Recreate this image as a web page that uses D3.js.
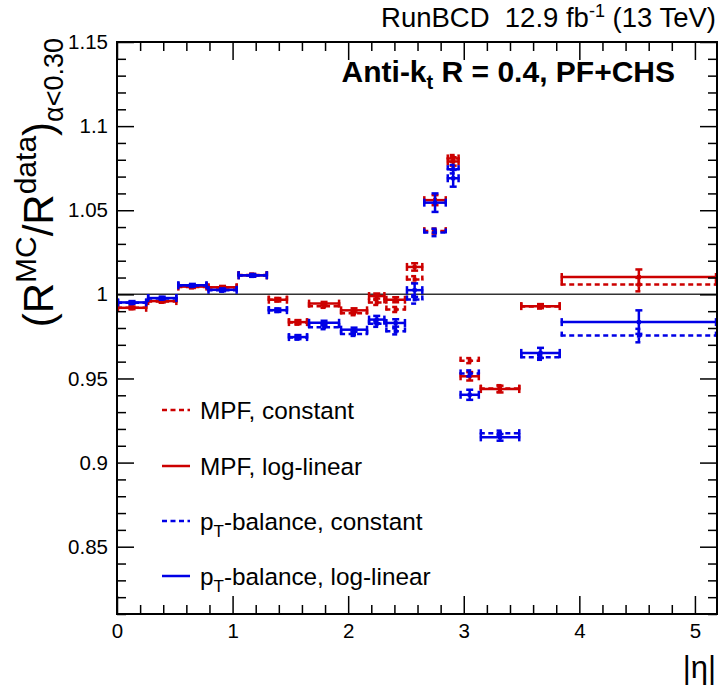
<!DOCTYPE html>
<html>
<head>
<meta charset="utf-8">
<script src="https://cdn.jsdelivr.net/npm/d3@7"></script>
<style>
  body { margin: 0; background: #fff; }
  text { font-family: "Liberation Sans", Arial, Helvetica, sans-serif; white-space: pre; }
</style>
</head>
<body>
<svg id="chart" width="718" height="688"></svg>
<script>
// |eta| bin edges
const etaEdges = [0, 0.261, 0.522, 0.783, 1.044, 1.305, 1.479, 1.653, 1.930, 2.172,
                  2.322, 2.500, 2.650, 2.853, 2.964, 3.139, 3.489, 3.839, 5.191];

// MC/data response ratio per bin, extrapolated to alpha < 0.30
const mpfConstant     = [0.9920, 0.9958, 1.0044, 1.0040, 1.0115, 0.9968, 0.9832, 0.9930, 0.9888,
                         0.9952, 0.9910, 1.0088, 1.0376, 1.0808, 0.9606, 0.9440, 0.9928, 1.0058];
const mpfConstantErr  = [0.0008, 0.0008, 0.0008, 0.0008, 0.0008, 0.0010, 0.0012, 0.0010, 0.0012,
                         0.0015, 0.0015, 0.0020, 0.0015, 0.0020, 0.0015, 0.0020, 0.0012, 0.0040];
const mpfLogLin       = [0.9920, 0.9960, 1.0046, 1.0042, 1.0113, 0.9968, 0.9835, 0.9945, 0.9905,
                         0.9990, 0.9968, 1.0163, 1.0560, 1.0790, 0.9513, 0.9437, 0.9930, 1.0103];
const mpfLogLinErr    = [0.0008, 0.0008, 0.0008, 0.0008, 0.0008, 0.0010, 0.0012, 0.0010, 0.0012,
                         0.0015, 0.0015, 0.0022, 0.0030, 0.0025, 0.0025, 0.0020, 0.0012, 0.0045];
const ptbConstant     = [0.9950, 0.9976, 1.0052, 1.0024, 1.0112, 0.9905, 0.9743, 0.9805, 0.9765,
                         0.9825, 0.9780, 0.9970, 1.0368, 1.0744, 0.9530, 0.9175, 0.9626, 0.9755];
const ptbConstantErr  = [0.0008, 0.0008, 0.0008, 0.0008, 0.0008, 0.0010, 0.0012, 0.0012, 0.0012,
                         0.0018, 0.0018, 0.0025, 0.0022, 0.0025, 0.0018, 0.0015, 0.0015, 0.0040];
const ptbLogLin       = [0.9952, 0.9978, 1.0054, 1.0027, 1.0113, 0.9906, 0.9746, 0.9831, 0.9790,
                         0.9850, 0.9830, 1.0025, 1.0545, 1.0690, 0.9403, 0.9150, 0.9652, 0.9835];
const ptbLogLinErr    = [0.0008, 0.0008, 0.0008, 0.0008, 0.0008, 0.0010, 0.0012, 0.0012, 0.0012,
                         0.0022, 0.0022, 0.0040, 0.0055, 0.0050, 0.0030, 0.0020, 0.0030, 0.0070];

// axis ticks
const xMajorTicks = [0, 1, 2, 3, 4, 5];
const yMajorTicks = [0.85, 0.90, 0.95, 1.00, 1.05, 1.10, 1.15];

const series = [
  { label: ["MPF, constant"],              values: mpfConstant, errors: mpfConstantErr, color: "#cc0000", dashed: true },
  { label: ["MPF, log-linear"],            values: mpfLogLin,   errors: mpfLogLinErr,   color: "#cc0000", dashed: false },
  { label: ["p", "T", "-balance, constant"],   values: ptbConstant, errors: ptbConstantErr, color: "#0000e6", dashed: true },
  { label: ["p", "T", "-balance, log-linear"], values: ptbLogLin,   errors: ptbLogLinErr,   color: "#0000e6", dashed: false }
];

const svg = d3.select("#chart");
const L = 117, R = 717, T = 42, B = 614;
const x = d3.scaleLinear().domain([0, 5.191]).range([L, R]);
const y = d3.scaleLinear().domain([0.81, 1.15]).range([B, T]);

const fmt = d => String(+d.toFixed(2));

// clip region for the plotted data
svg.append("defs").append("clipPath").attr("id", "plotClip")
  .append("rect").attr("x", L).attr("y", T).attr("width", R - L).attr("height", B - T);

// reference line at unity
svg.append("line")
  .attr("x1", x(0)).attr("x2", x(5.191)).attr("y1", y(1)).attr("y2", y(1))
  .attr("stroke", "#333").attr("stroke-width", 1.5);

// error-bar markers per series
const bins = d3.range(etaEdges.length - 1);
const dataLayer = svg.append("g").attr("clip-path", "url(#plotClip)");
const CAP_H = 4, CAP_V = 3.5, LW = 2.5, DASH = "5,3.5";

series.forEach(s => {
  const g = dataLayer.append("g")
    .attr("stroke", s.color).attr("stroke-width", LW).attr("fill", "none")
    .attr("stroke-dasharray", s.dashed ? DASH : null);
  const pts = bins.map(i => ({
    lo: etaEdges[i], hi: etaEdges[i + 1],
    c: (etaEdges[i] + etaEdges[i + 1]) / 2,
    v: s.values[i], e: s.errors[i]
  }));
  // horizontal bars (bin width)
  g.selectAll("line.h").data(pts).join("line").attr("class", "h")
    .attr("x1", d => x(d.lo)).attr("x2", d => x(d.hi))
    .attr("y1", d => y(d.v)).attr("y2", d => y(d.v));
  // end caps of horizontal bars
  g.selectAll("line.hl").data(pts).join("line").attr("class", "hl")
    .attr("stroke-dasharray", null)
    .attr("x1", d => x(d.lo) + 1).attr("x2", d => x(d.lo) + 1)
    .attr("y1", d => y(d.v) - CAP_H).attr("y2", d => y(d.v) + CAP_H);
  g.selectAll("line.hr").data(pts).join("line").attr("class", "hr")
    .attr("stroke-dasharray", null)
    .attr("x1", d => x(d.hi) - 1).attr("x2", d => x(d.hi) - 1)
    .attr("y1", d => y(d.v) - CAP_H).attr("y2", d => y(d.v) + CAP_H);
  // vertical error bars
  g.selectAll("line.v").data(pts).join("line").attr("class", "v")
    .attr("stroke-dasharray", null)
    .attr("x1", d => x(d.c)).attr("x2", d => x(d.c))
    .attr("y1", d => y(d.v + d.e)).attr("y2", d => y(d.v - d.e));
  g.selectAll("line.vt").data(pts).join("line").attr("class", "vt")
    .attr("stroke-dasharray", null)
    .attr("x1", d => x(d.c) - CAP_V).attr("x2", d => x(d.c) + CAP_V)
    .attr("y1", d => y(d.v + d.e)).attr("y2", d => y(d.v + d.e));
  g.selectAll("line.vb").data(pts).join("line").attr("class", "vb")
    .attr("stroke-dasharray", null)
    .attr("x1", d => x(d.c) - CAP_V).attr("x2", d => x(d.c) + CAP_V)
    .attr("y1", d => y(d.v - d.e)).attr("y2", d => y(d.v - d.e));
  // small centre marker
  dataLayer.append("g").selectAll("rect").data(pts).join("rect")
    .attr("x", d => x(d.c) - 2).attr("y", d => y(d.v) - 2)
    .attr("width", 4).attr("height", 4).attr("fill", s.color);
});

// axes: major + minor ticks on all four sides, pointing inward
const xMinor = d3.range(0.2, 5.19, 0.2).filter(v => Math.abs(v - Math.round(v)) > 1e-6);
const yMinor = d3.range(0.81, 1.1501, 0.01).filter(v => !yMajorTicks.some(t => Math.abs(t - v) < 1e-6));

const axisFont = g => g.selectAll("text")
  .attr("font-family", "Liberation Sans, Arial, sans-serif").attr("font-size", 20.5).attr("fill", "#000");

const xb = svg.append("g").attr("transform", `translate(0,${B})`)
  .call(d3.axisBottom(x).tickValues(xMajorTicks).tickFormat(d3.format("d")).tickSizeInner(-18).tickSizeOuter(0).tickPadding(9));
xb.call(axisFont);
svg.append("g").attr("transform", `translate(0,${B})`)
  .call(d3.axisBottom(x).tickValues(xMinor).tickFormat("").tickSizeInner(-9).tickSizeOuter(0));
svg.append("g").attr("transform", `translate(0,${T})`)
  .call(d3.axisTop(x).tickValues(xMajorTicks).tickFormat("").tickSizeInner(-18).tickSizeOuter(0));
svg.append("g").attr("transform", `translate(0,${T})`)
  .call(d3.axisTop(x).tickValues(xMinor).tickFormat("").tickSizeInner(-9).tickSizeOuter(0));

const yl = svg.append("g").attr("transform", `translate(${L},0)`)
  .call(d3.axisLeft(y).tickValues(yMajorTicks).tickFormat(fmt).tickSizeInner(-17).tickSizeOuter(0).tickPadding(9));
yl.call(axisFont);
svg.append("g").attr("transform", `translate(${L},0)`)
  .call(d3.axisLeft(y).tickValues(yMinor).tickFormat("").tickSizeInner(-9).tickSizeOuter(0));
svg.append("g").attr("transform", `translate(${R},0)`)
  .call(d3.axisRight(y).tickValues(yMajorTicks).tickFormat("").tickSizeInner(-17).tickSizeOuter(0));
svg.append("g").attr("transform", `translate(${R},0)`)
  .call(d3.axisRight(y).tickValues(yMinor).tickFormat("").tickSizeInner(-9).tickSizeOuter(0));

svg.selectAll(".domain").remove();
svg.selectAll(".tick line").attr("stroke", "#000").attr("stroke-width", 1.5);

// frame
svg.append("rect").attr("x", L).attr("y", T).attr("width", R - L).attr("height", B - T)
  .attr("fill", "none").attr("stroke", "#000").attr("stroke-width", 2);

// axis titles
svg.append("text").attr("x", 716).attr("y", 678).attr("text-anchor", "end")
  .attr("font-size", 31).text("|η|");

const yt = svg.append("text").attr("transform", "translate(53,38) rotate(-90)")
  .attr("text-anchor", "end").attr("font-size", 42);
yt.append("tspan").text("(R");
yt.append("tspan").attr("font-size", 30).attr("dy", -17).text("MC");
yt.append("tspan").attr("dy", 17).text("/R");
yt.append("tspan").attr("font-size", 30).attr("dy", -17).text("data");
yt.append("tspan").attr("dy", 17).text(")");
yt.append("tspan").attr("font-size", 27).attr("dy", 10).text("α<0.30");

// header and jet label
const hdr = svg.append("text").attr("x", 716).attr("y", 27).attr("text-anchor", "end").attr("font-size", 27.5);
hdr.append("tspan").text("RunBCD  12.9 fb");
hdr.append("tspan").attr("font-size", 18).attr("dy", -10).text("-1");
hdr.append("tspan").attr("dy", 10).text(" (13 TeV)");

const ttl = svg.append("text").attr("x", 675).attr("y", 82).attr("text-anchor", "end")
  .attr("font-size", 30).attr("font-weight", "bold");
ttl.append("tspan").text("Anti-k");
ttl.append("tspan").attr("font-size", 20).attr("dy", 7).text("t");
ttl.append("tspan").attr("dy", -7).text(" R = 0.4, PF+CHS");

// legend
const legY = [410, 466, 521, 576];
series.forEach((s, i) => {
  const yy = legY[i];
  svg.append("line").attr("x1", 162).attr("x2", 190).attr("y1", yy).attr("y2", yy)
    .attr("stroke", s.color).attr("stroke-width", LW)
    .attr("stroke-dasharray", s.dashed ? DASH : null);
  const t = svg.append("text").attr("x", 200).attr("y", yy + 9).attr("font-size", 24.3);
  if (s.label.length === 1) {
    t.text(s.label[0]);
  } else {
    t.append("tspan").text(s.label[0]);
    t.append("tspan").attr("font-size", 17).attr("dy", 7).text(s.label[1]);
    t.append("tspan").attr("dy", -7).text(s.label[2]);
  }
});
</script>
</body>
</html>
